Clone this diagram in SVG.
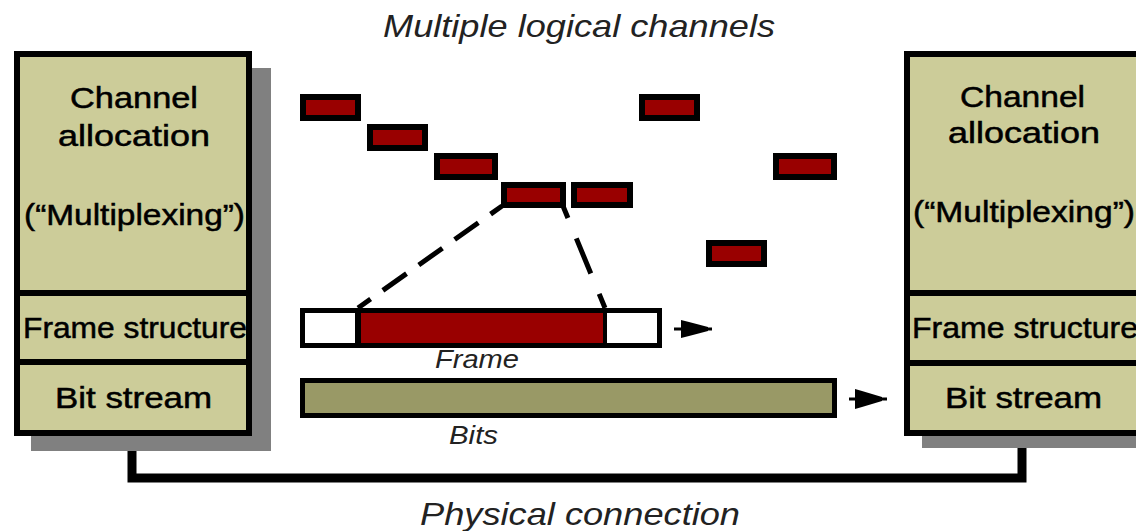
<svg xmlns="http://www.w3.org/2000/svg" width="1136" height="531" viewBox="0 0 1136 531">
  <style>
    .shadow { fill: #808080; }
    .stack { fill: #CCCC99; stroke: #000; stroke-width: 6; }
    .divider { stroke: #000; stroke-width: 6; }
    .lbl { font-family: "Liberation Sans", Arial, sans-serif; font-size: 29px; fill: #000; stroke: #000; stroke-width: 0.5; }
    .cap { font-family: "Liberation Sans", Arial, sans-serif; font-style: italic; fill: #222; }
    .chan { fill: #990000; stroke: #000; stroke-width: 6; }
    .dash { stroke: #000; stroke-width: 5; fill: none; }
    .link { stroke: #000; stroke-width: 9; fill: none; stroke-linejoin: miter; }
  </style>

  <!-- physical connection between the two stacks -->
  <g id="connectors">
    <polyline class="link" points="132,436 132,478 1022,478 1022,436"/>
    <!-- zoom-out lines from one channel slot down to the frame -->
    <line class="dash" x1="502" y1="206" x2="358" y2="308" stroke-dasharray="29 15" stroke-dashoffset="15"/>
    <line class="dash" x1="563" y1="206" x2="605" y2="308" stroke-dasharray="38 22" stroke-dashoffset="25"/>
    <!-- direction arrows -->
    <g id="arrow-frame">
      <line x1="674" y1="329" x2="712" y2="329" stroke="#000" stroke-width="3"/>
      <polygon points="681,320 689,322 708,327 708,331 689,336 681,338" fill="#000"/>
    </g>
    <g id="arrow-bits">
      <line x1="849" y1="399" x2="887" y2="399" stroke="#000" stroke-width="3"/>
      <polygon points="855,389 862,391 882,397 882,401 862,407 855,409" fill="#000"/>
    </g>
  </g>

  <!-- left protocol stack -->
  <g id="stack-left">
    <rect class="shadow" x="31" y="68" width="240" height="383"/>
    <rect class="stack" x="17" y="54" width="232" height="379"/>
    <line class="divider" x1="14" y1="293" x2="252" y2="293"/>
    <line class="divider" x1="14" y1="362" x2="252" y2="362"/>
    <text class="lbl" x="70" y="108" textLength="128" lengthAdjust="spacingAndGlyphs">Channel</text>
    <text class="lbl" x="58" y="146" textLength="152" lengthAdjust="spacingAndGlyphs">allocation</text>
    <text class="lbl" x="24" y="225" textLength="221" lengthAdjust="spacingAndGlyphs">(“Multiplexing”)</text>
    <text class="lbl" x="23" y="338" textLength="224" lengthAdjust="spacingAndGlyphs">Frame structure</text>
    <text class="lbl" x="55" y="408" textLength="157" lengthAdjust="spacingAndGlyphs">Bit stream</text>
  </g>

  <!-- right protocol stack -->
  <g id="stack-right">
    <rect class="shadow" x="922" y="68" width="240" height="380"/>
    <rect class="stack" x="907" y="54" width="232" height="379"/>
    <line class="divider" x1="904" y1="293" x2="1142" y2="293"/>
    <line class="divider" x1="904" y1="363" x2="1142" y2="363"/>
    <text class="lbl" x="960" y="107" textLength="125" lengthAdjust="spacingAndGlyphs">Channel</text>
    <text class="lbl" x="948" y="143" textLength="152" lengthAdjust="spacingAndGlyphs">allocation</text>
    <text class="lbl" x="913" y="222" textLength="222" lengthAdjust="spacingAndGlyphs">(“Multiplexing”)</text>
    <text class="lbl" x="912" y="338" textLength="226" lengthAdjust="spacingAndGlyphs">Frame structure</text>
    <text class="lbl" x="945" y="408" textLength="157" lengthAdjust="spacingAndGlyphs">Bit stream</text>
  </g>

  <!-- logical channel slots -->
  <g id="channels">
    <rect class="chan" x="303" y="97" width="55" height="21"/>
    <rect class="chan" x="370" y="127" width="55" height="21"/>
    <rect class="chan" x="437" y="156" width="58" height="21"/>
    <rect class="chan" x="504" y="185" width="59" height="20"/>
    <rect class="chan" x="574" y="185" width="56" height="20"/>
    <rect class="chan" x="642" y="97" width="55" height="21"/>
    <rect class="chan" x="776" y="156" width="58" height="21"/>
    <rect class="chan" x="709" y="243" width="55" height="21"/>
  </g>

  <!-- frame -->
  <g id="frame">
    <rect x="302.5" y="310.5" width="357" height="35" fill="#fff" stroke="#000" stroke-width="5"/>
    <rect x="358" y="313" width="247" height="30" fill="#990000"/>
    <line x1="358" y1="310" x2="358" y2="346" stroke="#000" stroke-width="6"/>
    <line x1="605" y1="310" x2="605" y2="346" stroke="#000" stroke-width="4"/>
    <text class="cap" x="435" y="368" font-size="25" textLength="84" lengthAdjust="spacingAndGlyphs">Frame</text>
  </g>

  <!-- bit stream -->
  <g id="bits">
    <rect x="302.5" y="380.5" width="532" height="35" fill="#999966" stroke="#000" stroke-width="5"/>
    <text class="cap" x="449" y="444" font-size="25" textLength="49" lengthAdjust="spacingAndGlyphs">Bits</text>
  </g>

  <!-- captions -->
  <g id="captions">
    <text class="cap" x="383" y="37" font-size="32" textLength="392" lengthAdjust="spacingAndGlyphs">Multiple logical channels</text>
    <text class="cap" x="420" y="525" font-size="32" textLength="320" lengthAdjust="spacingAndGlyphs">Physical connection</text>
  </g>
</svg>
